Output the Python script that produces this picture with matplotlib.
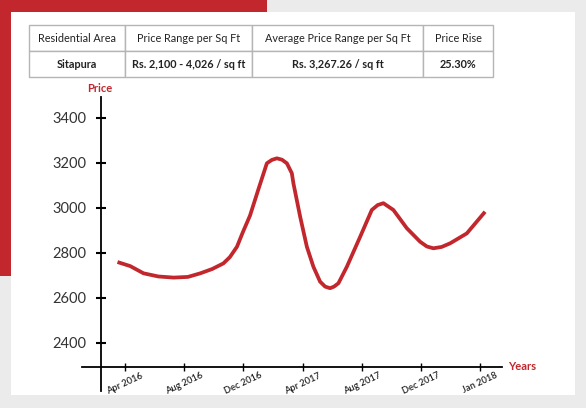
import numpy as np
import matplotlib
matplotlib.use('Agg')
import matplotlib.pyplot as plt
from matplotlib.patches import Rectangle

# data (x in month-label index units)
month_labels = ['Apr 2016', 'Aug 2016', 'Dec 2016', 'Apr 2017', 'Aug 2017', 'Dec 2017', 'Jan 2018']
price_x = [-0.13, 0.085, 0.31, 0.56, 0.82, 1.06, 1.27, 1.47, 1.66, 1.77, 1.89, 1.99, 2.11,
           2.25, 2.395, 2.48, 2.564, 2.65, 2.733, 2.817, 2.844, 2.958, 3.071, 3.182, 3.295,
           3.38, 3.464, 3.53, 3.605, 3.747, 3.972, 4.169, 4.27, 4.365, 4.534, 4.761, 4.986,
           5.10, 5.21, 5.35, 5.493, 5.775, 6.084]
price_y = [2759, 2741, 2709, 2695, 2690, 2693, 2709, 2728, 2753, 2781, 2827, 2892, 2965,
           3080, 3197, 3212, 3219, 3213, 3197, 3153, 3108, 2960, 2827, 2738, 2672,
           2650, 2643, 2650, 2665, 2738, 2871, 2990, 3012, 3020, 2990, 2909, 2849,
           2828, 2820, 2826, 2842, 2886, 2982]
y_ticks = [2400, 2600, 2800, 3000, 3200, 3400]

table_header = ['Residential Area', 'Price Range per Sq Ft', 'Average Price Range per Sq Ft', 'Price Rise']
table_row = ['Sitapura', 'Rs. 2,100 - 4,026 / sq ft', 'Rs. 3,267.26 / sq ft', '25.30%']

red = '#c1272d'
W, H = 586, 408
fig = plt.figure(figsize=(W / 100, H / 100), dpi=100, facecolor='#ebebeb')

# background blocks
fig.add_artist(Rectangle((0, 1 - 276 / H), 267 / W, 276 / H, transform=fig.transFigure,
                         facecolor=red, edgecolor='none', zorder=-3))
fig.add_artist(Rectangle((11 / W, 13 / H), 564 / W, 383 / H, transform=fig.transFigure,
                         facecolor='white', edgecolor='none', zorder=-2))

# table
tax = fig.add_axes([29 / W, 1 - 77 / H, 464 / W, 52 / H])
tax.axis('off')
tbl = tax.table(cellText=[table_header, table_row], cellLoc='center', bbox=[0, 0, 1, 1],
                colWidths=[96, 127, 171, 70])
tbl.auto_set_font_size(False)
for (r, c), cell in tbl.get_celld().items():
    cell.set_edgecolor('#b5b5b5')
    cell.set_linewidth(1.0)
    cell.get_text().set_fontsize(7.8)
    cell.get_text().set_family('Lato')
    cell.get_text().set_color('#222222')
    if r == 1:
        cell.get_text().set_fontweight('bold')

# chart
ax = fig.add_axes([82 / W, 17 / H, 420 / W, 294 / H])
ax.patch.set_alpha(0)
ax.plot(price_x, price_y, color=red, lw=2.7, solid_capstyle='butt', solid_joinstyle='round')
ax.set_xlim(-0.73, 6.37)
ax.set_ylim(2187, 3491)
ax.spines['top'].set_visible(False)
ax.spines['right'].set_visible(False)
ax.spines['left'].set_position(('data', -0.41))
ax.spines['bottom'].set_position(('data', 2294))
for s in ['left', 'bottom']:
    ax.spines[s].set_linewidth(1.3)
ax.set_yticks(y_ticks)
ax.set_yticklabels([str(v) for v in y_ticks], fontsize=10.5, family='Lato', color='#333333')
ax.set_xticks(range(len(month_labels)))
ax.set_xticklabels(month_labels, fontsize=6.7, family='Lato', fontweight='semibold',
                   color='#222222', rotation=25, ha='center', va='top')
ax.tick_params(axis='y', direction='inout', length=7, width=1.5, pad=7)
ax.tick_params(axis='x', direction='inout', length=6, width=1.0, pad=0)

fig.text(100 / W, 1 - 88 / H, 'Price', color=red, fontsize=8, fontweight='bold',
         family='Lato', ha='center', va='center')
fig.text(508 / W, 1 - 366 / H, 'Years', color=red, fontsize=8, fontweight='bold',
         family='Lato', ha='left', va='center')

fig.savefig('out.png', dpi=100, facecolor=fig.get_facecolor())
